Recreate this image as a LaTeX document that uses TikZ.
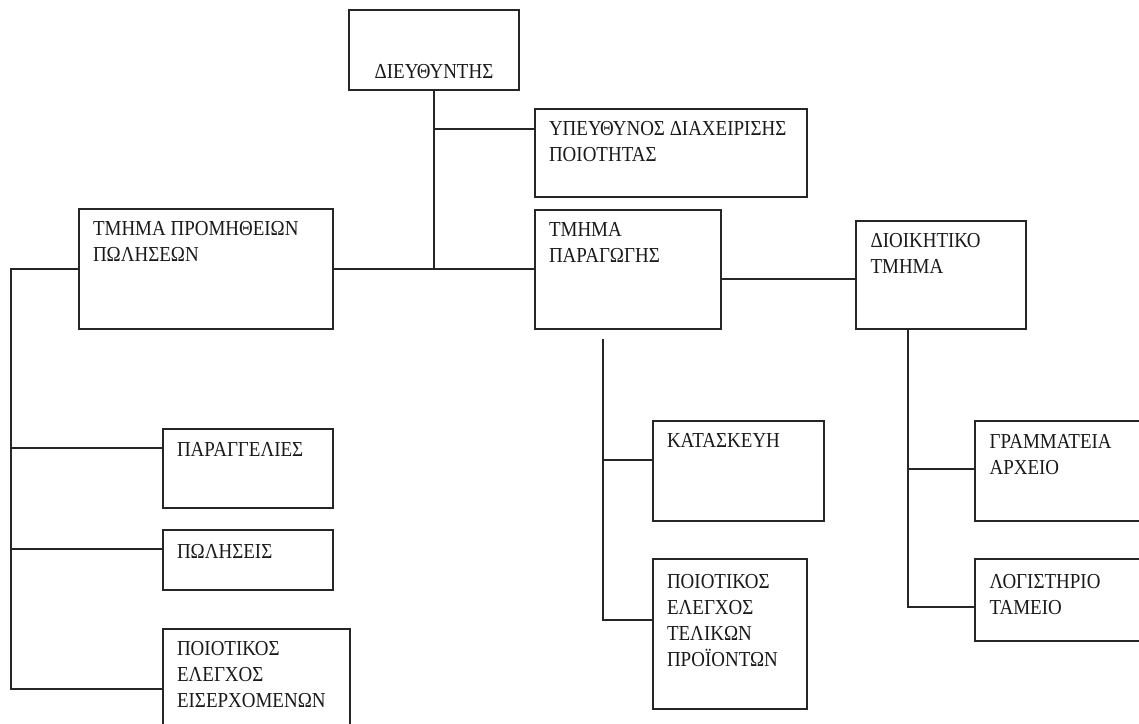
\documentclass[tikz,border=0pt]{standalone}
\usepackage{fontspec}
\setmainfont{Liberation Serif}[FakeStretch=0.89]
\usetikzlibrary{fit,calc}

\tikzset{
  x=0.75pt, y=-0.75pt,
  box/.style={draw=black!85, line width=1.1pt, inner sep=0pt, rectangle},
  link/.style={draw=black!85, line width=1.1pt},
  lbl/.style={inner sep=0pt, align=left, anchor=north west,
              font=\fontsize{16}{19.5}\selectfont, text=black!90},
}

\begin{document}
\begin{tikzpicture}
\useasboundingbox (0,0) rectangle (1139,724);
\clip (0,0) rectangle (1139,724);

% boxes
\node[box, fit={(349,10) (519,90)}]     (dir)  {};
\node[box, fit={(535,109) (807,197)}]   (qm)   {};
\node[box, fit={(79,209) (333,329)}]    (supp) {};
\node[box, fit={(535,210) (721,329)}]   (prod) {};
\node[box, fit={(856,221) (1026,329)}]  (admin){};
\node[box, fit={(163,429) (333,508)}]   (ord)  {};
\node[box, fit={(163,530) (333,590)}]   (sales){};
\node[box, fit={(163,629) (350,760)}]   (qin)  {};
\node[box, fit={(653,421) (824,521)}]   (mfg)  {};
\node[box, fit={(653,559) (807,709)}]   (qout) {};
\node[box, fit={(975,421) (1170,521)}]  (secr) {};
\node[box, fit={(975,559) (1170,641)}]  (acct) {};

% labels
\node[lbl, anchor=north] (tdir) at ($(dir.north)+(0,54.5)$) {ΔΙΕΥΘΥΝΤΗΣ};
\node[lbl] (tqm)   at ($(qm.north west)+(14.5,13)$)     {ΥΠΕΥΘΥΝΟΣ ΔΙΑΧΕΙΡΙΣΗΣ\\ΠΟΙΟΤΗΤΑΣ};
\node[lbl] (tsupp) at ($(supp.north west)+(14.5,12.5)$) {ΤΜΗΜΑ ΠΡΟΜΗΘΕΙΩΝ\\ΠΩΛΗΣΕΩΝ};
\node[lbl] (tprod) at ($(prod.north west)+(14.5,12.5)$) {ΤΜΗΜΑ\\ΠΑΡΑΓΩΓΗΣ};
\node[lbl] (tadm)  at ($(admin.north west)+(15,12.5)$)  {ΔΙΟΙΚΗΤΙΚΟ\\ΤΜΗΜΑ};
\node[lbl] (tord)  at ($(ord.north west)+(14.5,13.5)$)  {ΠΑΡΑΓΓΕΛΙΕΣ};
\node[lbl] (tsal)  at ($(sales.north west)+(14.5,14.5)$) {ΠΩΛΗΣΕΙΣ};
\node[lbl] (tqin)  at ($(qin.north west)+(14.5,12.5)$)  {ΠΟΙΟΤΙΚΟΣ\\ΕΛΕΓΧΟΣ\\ΕΙΣΕΡΧΟΜΕΝΩΝ};
\node[lbl] (tmfg)  at ($(mfg.north west)+(14.5,13)$)    {ΚΑΤΑΣΚΕΥΗ};
\node[lbl] (tqout) at ($(qout.north west)+(14.5,15.5)$) {ΠΟΙΟΤΙΚΟΣ\\ΕΛΕΓΧΟΣ\\ΤΕΛΙΚΩΝ\\ΠΡΟΪΟΝΤΩΝ};
\node[lbl] (tsec)  at ($(secr.north west)+(15,13.5)$)   {ΓΡΑΜΜΑΤΕΙΑ\\ΑΡΧΕΙΟ};
\node[lbl] (tacc)  at ($(acct.north west)+(15,15.5)$)   {ΛΟΓΙΣΤΗΡΙΟ\\ΤΑΜΕΙΟ};

% junction points
\coordinate (jq)    at (dir.south |- 0,129);
\coordinate (jmain) at (dir.south |- supp.east);
\coordinate (pa)    at (prod.east |- 0,279);
\coordinate (lt)    at (11,269);
\coordinate (l1)    at (11,448);
\coordinate (l2)    at (11,549);
\coordinate (l3)    at (11,689);
\coordinate (ptop)  at (603,339);
\coordinate (p1)    at (603,460);
\coordinate (p2)    at (603,620);
\coordinate (atop)  at (908,0 |- admin.south);
\coordinate (a1)    at (908,469);
\coordinate (a2)    at (908,607);

% director links
\draw[link] (dir.south) -- (jmain);
\draw[link] (jq) -- (qm.west |- jq);
\draw[link] (supp.east) -- (prod.west |- supp.east);
\draw[link] (pa) -- (admin.west |- pa);

% supplies / sales branch
\draw[link] (supp.west |- lt) -- (lt) -- (l3) -- (qin.west |- l3);
\draw[link] (l1) -- (ord.west |- l1);
\draw[link] (l2) -- (sales.west |- l2);

% production branch
\draw[link] (ptop) -- (p2) -- (qout.west |- p2);
\draw[link] (p1) -- (mfg.west |- p1);

% administration branch
\draw[link] (atop) -- (a2) -- (acct.west |- a2);
\draw[link] (a1) -- (secr.west |- a1);
\end{tikzpicture}
\end{document}
